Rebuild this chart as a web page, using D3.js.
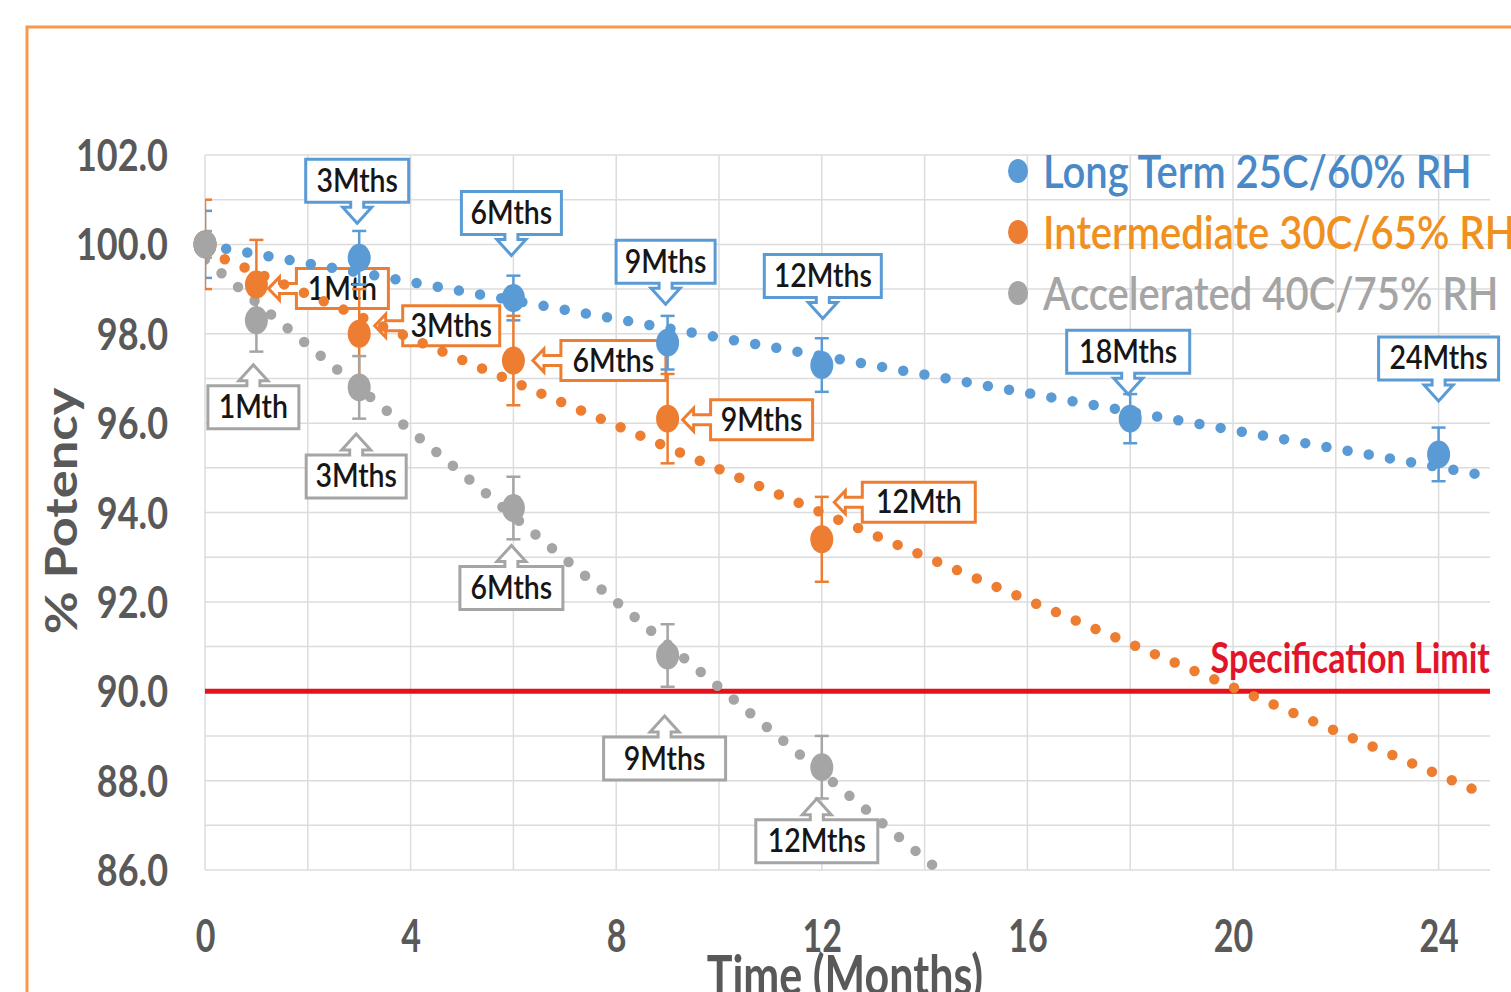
<!DOCTYPE html>
<html>
<head>
<meta charset="utf-8">
<script src="https://cdn.jsdelivr.net/npm/d3@7"></script>
<style>
  html, body { margin: 0; padding: 0; background: #ffffff; }
  svg { display: block; font-family: Lato, "Open Sans", sans-serif; }
</style>
</head>
<body>
<svg id="chart" width="1511" height="992"></svg>
<script>
// ---- data ----
const longTermMonths = [0, 3, 6, 9, 12, 18, 24];
const longTermPotency = [100.0, 99.7, 98.8, 97.8, 97.3, 96.1, 95.3];
const longTermError = [0.75, 0.6, 0.5, 0.6, 0.6, 0.55, 0.6];
const longTermLabels = [null, "3Mths", "6Mths", "9Mths", "12Mths", "18Mths", "24Mths"];

const stressMonths = [0, 1, 3, 6, 9, 12];
const intermediatePotency = [100.0, 99.1, 98.0, 97.4, 96.1, 93.4];
const intermediateError = [1.0, 1.0, 1.0, 1.0, 1.0, 0.95];
const intermediateLabels = [null, "1Mth", "3Mths", "6Mths", "9Mths", "12Mth"];

const acceleratedPotency = [100.0, 98.3, 96.8, 94.1, 90.8, 88.3];
const acceleratedError = [0.3, 0.7, 0.7, 0.7, 0.7, 0.7];
const acceleratedLabels = [null, "1Mth", "3Mths", "6Mths", "9Mths", "12Mths"];

const seriesNames = ["Long Term 25C/60% RH", "Intermediate 30C/65% RH", "Accelerated 40C/75% RH"];
const specLimit = 90.0;
const specLabel = "Specification Limit";
const xTicks = [0, 4, 8, 12, 16, 20, 24];
const yTicks = [86, 88, 90, 92, 94, 96, 98, 100, 102];
const xTitle = "Time (Months)";
const yTitle = "% Potency";

// ---- callout placement (pixel offsets from each point, box width) ----
const longTermCalloutPlace = [null,
  {dx: -2, dy: -77, w: 103}, {dx: -2, dy: -85, w: 100}, {dx: -2, dy: -81, w: 99},
  {dx: 1, dy: -89, w: 117}, {dx: -2, dy: -67, w: 123}, {dx: 0, dy: -96, w: 120}];
const intermediateCalloutPlace = [null,
  {dx: 86, dy: 4, w: 92}, {dx: 92, dy: -8, w: 97}, {dx: 100, dy: 0, w: 105},
  {dx: 94, dy: 1, w: 102}, {dx: 97, dy: -37, w: 113}];
const acceleratedCalloutPlace = [null,
  {dx: -3, dy: 87, w: 91}, {dx: -3, dy: 89, w: 100}, {dx: -2, dy: 80, w: 103},
  {dx: -3, dy: 103, w: 122}, {dx: -5, dy: 74, w: 122}];

// ---- layout ----
const plot = {left: 205, right: 1490, top: 155, bottom: 870};
const colors = {
  blue: "#5b9bd5", orange: "#ed7d31", gray: "#a5a5a5",
  blueText: "#4a89c8", orangeText: "#f0901e", grayText: "#a5a5a5",
  axisText: "#595959", grid: "#dcdcdc", spec: "#e3121b", specText: "#e2142a",
  frame: "#f39a4e"
};

const svg = d3.select("#chart");

const x = d3.scaleLinear().domain([0, 25]).range([plot.left, plot.right]);
const y = d3.scaleLinear().domain([86, 102]).range([plot.bottom, plot.top]);

// outer frame
svg.append("path")
  .attr("d", `M27,992 V27 H1511`)
  .attr("fill", "none")
  .attr("stroke", colors.frame)
  .attr("stroke-width", 3);

svg.append("defs").append("clipPath").attr("id", "plotClip")
  .append("rect")
  .attr("x", plot.left).attr("y", plot.top)
  .attr("width", plot.right - plot.left).attr("height", plot.bottom - plot.top);

// gridlines
const grid = svg.append("g").attr("class", "grid");
grid.selectAll("line.h")
  .data(d3.range(86, 102.5, 1))
  .join("line")
  .attr("x1", plot.left).attr("x2", plot.right)
  .attr("y1", d => y(d)).attr("y2", d => y(d))
  .attr("stroke", colors.grid).attr("stroke-width", 1.5);
grid.selectAll("line.v")
  .data(d3.range(0, 25, 2))
  .join("line")
  .attr("x1", d => x(d)).attr("x2", d => x(d))
  .attr("y1", plot.top).attr("y2", plot.bottom)
  .attr("stroke", colors.grid).attr("stroke-width", 1.5);

// axes
const yAxis = svg.append("g")
  .attr("transform", `translate(${plot.left},0)`)
  .call(d3.axisLeft(y).tickValues(yTicks).tickFormat(d3.format(".1f")).tickSize(0).tickPadding(37));
yAxis.select(".domain").remove();
yAxis.selectAll("text")
  .attr("fill", colors.axisText)
  .attr("font-family", "Lato")
  .attr("font-weight", "bold")
  .attr("font-size", 36)
  .attr("dy", "0.36em")
  .attr("transform", "scale(1,1.2)");

const xAxis = svg.append("g")
  .attr("transform", `translate(0,${plot.bottom})`)
  .call(d3.axisBottom(x).tickValues(xTicks).tickFormat(d3.format("d")).tickSize(0));
xAxis.select(".domain").remove();
xAxis.selectAll("text")
  .attr("fill", colors.axisText)
  .attr("font-family", "Lato")
  .attr("font-weight", "bold")
  .attr("font-size", 34)
  .attr("y", 0).attr("dy", 0)
  .attr("transform", "translate(0,82) scale(1,1.35)");

// axis titles
svg.append("text")
  .attr("transform", "translate(77,511) scale(1,1.22) rotate(-90)")
  .attr("text-anchor", "middle")
  .attr("font-weight", "bold")
  .attr("font-size", 43)
  .attr("fill", colors.axisText)
  .text(yTitle);

svg.append("text")
  .attr("transform", "translate(845,995) scale(1,1.3)")
  .attr("text-anchor", "middle")
  .attr("font-weight", "bold")
  .attr("font-size", 43)
  .attr("fill", colors.axisText)
  .text(xTitle);

// series definitions
function zipSeries(ts, vs, es, labels, places) {
  return ts.map((t, i) => ({t, v: vs[i], e: es[i], label: labels[i], place: places[i]}));
}
const series = [
  {name: seriesNames[0], color: colors.blue, text: colors.blueText, dir: "down", h: 43,
   pts: zipSeries(longTermMonths, longTermPotency, longTermError, longTermLabels, longTermCalloutPlace)},
  {name: seriesNames[1], color: colors.orange, text: colors.orangeText, dir: "left", h: 40,
   pts: zipSeries(stressMonths, intermediatePotency, intermediateError, intermediateLabels, intermediateCalloutPlace)},
  {name: seriesNames[2], color: colors.gray, text: colors.grayText, dir: "up", h: 43,
   pts: zipSeries(stressMonths, acceleratedPotency, acceleratedError, acceleratedLabels, acceleratedCalloutPlace)}
];

// least-squares linear trendline
function linearFit(pts) {
  const mt = d3.mean(pts, p => p.t), mv = d3.mean(pts, p => p.v);
  let sxy = 0, sxx = 0;
  pts.forEach(p => { sxy += (p.t - mt) * (p.v - mv); sxx += (p.t - mt) ** 2; });
  const slope = sxy / sxx;
  return {slope, intercept: mv - slope * mt};
}

// callout shape: box with an arrow pointing toward the data point
function calloutPath(cx, cy, w, h, dir) {
  const x0 = cx - w / 2, x1 = cx + w / 2, y0 = cy - h / 2, y1 = cy + h / 2;
  if (dir === "down" || dir === "up") {
    const sw = 13, sl = 5, hw = 29, hl = 16;
    if (dir === "down") {
      return `M${x0},${y0}H${x1}V${y1}H${cx + sw / 2}V${y1 + sl}H${cx + hw / 2}L${cx},${y1 + sl + hl}` +
             `L${cx - hw / 2},${y1 + sl}H${cx - sw / 2}V${y1}H${x0}Z`;
    }
    return `M${x0},${y1}H${x1}V${y0}H${cx + sw / 2}V${y0 - sl}H${cx + hw / 2}L${cx},${y0 - sl - hl}` +
           `L${cx - hw / 2},${y0 - sl}H${cx - sw / 2}V${y0}H${x0}Z`;
  }
  const sw = 10, sl = 17, hw = 23, hl = 11;
  return `M${x1},${y0}V${y1}H${x0}V${cy + sw / 2}H${x0 - sl}V${cy + hw / 2}L${x0 - sl - hl},${cy}` +
         `L${x0 - sl},${cy - hw / 2}V${cy - sw / 2}H${x0}V${y0}Z`;
}

// callouts (beneath the series marks)
const callouts = svg.append("g").attr("class", "callouts");
series.forEach(s => {
  s.pts.filter(p => p.label).forEach(p => {
    const cx = x(p.t) + p.place.dx, cy = y(p.v) + p.place.dy;
    callouts.append("path")
      .attr("d", calloutPath(cx, cy, p.place.w, s.h, s.dir))
      .attr("fill", "#ffffff")
      .attr("stroke", s.color)
      .attr("stroke-width", 3)
      .attr("stroke-linejoin", "miter");
    callouts.append("text")
      .attr("transform", `translate(${cx},${cy + 11}) scale(0.95,1.08)`)
      .attr("text-anchor", "middle")
      .attr("font-size", 30)
      .attr("font-weight", 600)
      .attr("fill", "#161616")
      .text(p.label);
  });
});

// specification limit
const clipped = svg.append("g").attr("clip-path", "url(#plotClip)");
clipped.append("line")
  .attr("x1", x(0)).attr("x2", x(25))
  .attr("y1", y(specLimit)).attr("y2", y(specLimit))
  .attr("stroke", colors.spec).attr("stroke-width", 5);

svg.append("text")
  .attr("transform", `translate(${x(25)},${y(specLimit) - 18}) scale(1,1.22)`)
  .attr("text-anchor", "end")
  .attr("font-weight", "bold")
  .attr("font-size", 34)
  .attr("fill", colors.specText)
  .text(specLabel);

// dotted trendlines
series.forEach(s => {
  const fit = linearFit(s.pts);
  const ends = [0, 25].map(t => [x(t), y(fit.intercept + fit.slope * t)]);
  clipped.append("path")
    .attr("d", d3.line()(ends))
    .attr("fill", "none")
    .attr("stroke", s.color)
    .attr("stroke-width", 10.5)
    .attr("stroke-linecap", "round")
    .attr("stroke-dasharray", "0 21.5");
});

// error bars
series.forEach(s => {
  const g = clipped.append("g").attr("stroke", s.color).attr("stroke-width", 2.5);
  s.pts.forEach(p => {
    const xp = x(p.t), yt = y(p.v + p.e), yb = y(p.v - p.e);
    g.append("line").attr("x1", xp).attr("x2", xp).attr("y1", yt).attr("y2", yb);
    g.append("line").attr("x1", xp - 7).attr("x2", xp + 7).attr("y1", yt).attr("y2", yt);
    g.append("line").attr("x1", xp - 7).attr("x2", xp + 7).attr("y1", yb).attr("y2", yb);
  });
});

// markers
series.forEach(s => {
  svg.append("g").selectAll("ellipse")
    .data(s.pts)
    .join("ellipse")
    .attr("cx", p => x(p.t)).attr("cy", p => y(p.v))
    .attr("rx", 11.5).attr("ry", 14)
    .attr("fill", s.color);
});

// legend
const legend = svg.append("g").attr("transform", "translate(1018,171)");
series.forEach((s, i) => {
  const row = legend.append("g").attr("transform", `translate(0,${i * 61})`);
  row.append("ellipse").attr("rx", 10).attr("ry", 12).attr("fill", s.color);
  row.append("text")
    .attr("transform", "translate(25,17) scale(1,1.15)")
    .attr("font-size", 40)
    .attr("font-weight", 600)
    .attr("fill", s.text)
    .text(s.name);
});
</script>
</body>
</html>
